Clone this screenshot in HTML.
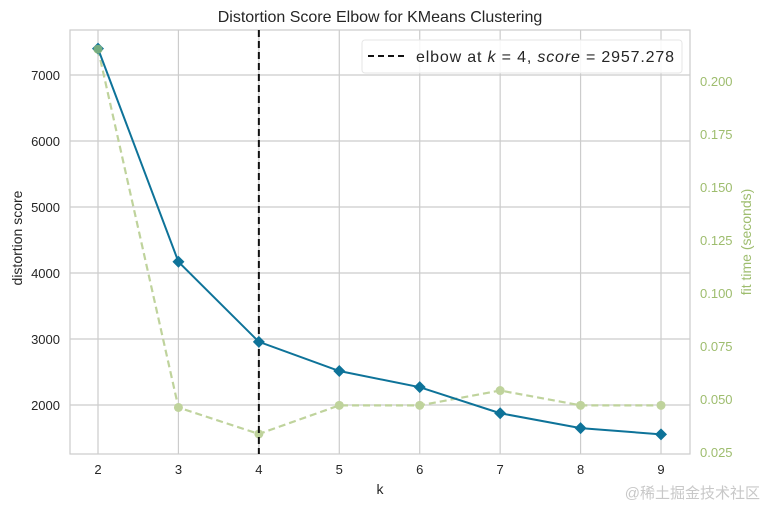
<!DOCTYPE html>
<html><head><meta charset="utf-8"><style>
body{margin:0;background:#fff;}
svg{display:block;font-family:"Liberation Sans","DejaVu Sans",sans-serif;}
</style></head><body>
<svg id="c" width="764" height="505" xmlns="http://www.w3.org/2000/svg">
<rect x="70" y="30" width="620" height="424" fill="#fff" stroke="#cccccc" stroke-width="1.2"/>
<g id="grid"></g>
<g id="axes"></g>
<g id="marks"></g>
<text x="380" y="22" text-anchor="middle" font-size="16" fill="#262626">Distortion Score Elbow for KMeans Clustering</text>
<text x="380" y="494" text-anchor="middle" font-size="14" fill="#262626">k</text>
<text transform="translate(22,238) rotate(-90)" text-anchor="middle" font-size="14" fill="#262626">distortion score</text>
<text transform="translate(751,242) rotate(-90)" text-anchor="middle" font-size="14" fill="#9ebd6e">fit time (seconds)</text>
<g>
<rect x="362" y="40" width="320" height="33" rx="3" fill="#fff" fill-opacity="0.85" stroke="#e6e6e6"/>
<line x1="368" y1="56" x2="404" y2="56" stroke="#111" stroke-width="2" stroke-dasharray="6,4"/>
<text x="416" y="62" font-size="16" textLength="258" fill="#262626">elbow at <tspan font-style="italic">k</tspan> = 4, <tspan font-style="italic">score</tspan> = 2957.278</text>
</g>
<text x="760" y="498" text-anchor="end" font-size="15" fill="#c8c8c8" font-family="'Liberation Sans','Noto Sans CJK SC',sans-serif">@稀土掘金技术社区</text>
</svg>
<script>
const ks=[2,3,4,5,6,7,8,9];
const distortion=[7400,4170,2957.278,2515,2270,1875,1650,1555];
const fitTime=[0.215,0.046,0.0335,0.047,0.047,0.054,0.047,0.047];
const yTicks=[2000,3000,4000,5000,6000,7000];
const y2Ticks=[0.025,0.050,0.075,0.100,0.125,0.150,0.175,0.200];
const elbowK=4;
const NS="http://www.w3.org/2000/svg";
const X=k=>98+(k-2)*80.43;
const Y=v=>405-(v-2000)*0.066;
const Y2=v=>452-(v-0.025)*2120;
function mk(p,t,a){const e=document.createElementNS(NS,t);for(const k in a)e.setAttribute(k,a[k]);p.appendChild(e);return e;}
const grid=document.getElementById('grid'),axes=document.getElementById('axes'),marks=document.getElementById('marks');
ks.forEach(k=>{
 const l=mk(grid,'line',{x1:X(k),x2:X(k),y1:30,y2:454,stroke:'#cccccc','stroke-width':1.2});
 
 
 const t=mk(axes,'text',{x:X(k),y:474,'text-anchor':'middle','font-size':13,fill:'#262626'});t.textContent=k;
 
 
});
yTicks.forEach(v=>{
 const l=mk(grid,'line',{x1:70,x2:690,y1:Y(v),y2:Y(v),stroke:'#cccccc','stroke-width':1.2});
 
 
 const t=mk(axes,'text',{x:60,y:Y(v)+5,'text-anchor':'end','font-size':13,fill:'#262626'});t.textContent=v;
 
 
});
y2Ticks.forEach(v=>{
 const t=mk(axes,'text',{x:700,y:Y2(v)+5,'font-size':13,fill:'#9ebd6e'});t.textContent=v.toFixed(3);
 
 
});
const fl=mk(marks,'polyline',{points:ks.map((k,i)=>X(k)+','+Y2(fitTime[i])).join(' '),fill:'none',stroke:'#bfd39c','stroke-width':2.2,'stroke-dasharray':'7,4'});


ks.forEach((k,i)=>{
 const c=mk(marks,'circle',{cx:X(k),cy:Y2(fitTime[i]),r:4.5,fill:'#bfd39c'});
 
 
});
const el=mk(marks,'line',{x1:X(elbowK),x2:X(elbowK),y1:30,y2:454,stroke:'#111','stroke-width':2,'stroke-dasharray':'7,4'});


const dl=mk(marks,'polyline',{points:ks.map((k,i)=>X(k)+','+Y(distortion[i])).join(' '),fill:'none',stroke:'#0e7399','stroke-width':2});


ks.forEach((k,i)=>{
 const x=X(k),y=Y(distortion[i]);
 const p=mk(marks,'polygon',{points:`${x},${y-6} ${x+6},${y} ${x},${y+6} ${x-6},${y}`,fill:'#0e7399'});
 
 
});
const c0=mk(marks,'circle',{cx:X(ks[0]),cy:Y2(fitTime[0]),r:4.5,fill:'#8fba7a','fill-opacity':0.8});


</script>
</body></html>
